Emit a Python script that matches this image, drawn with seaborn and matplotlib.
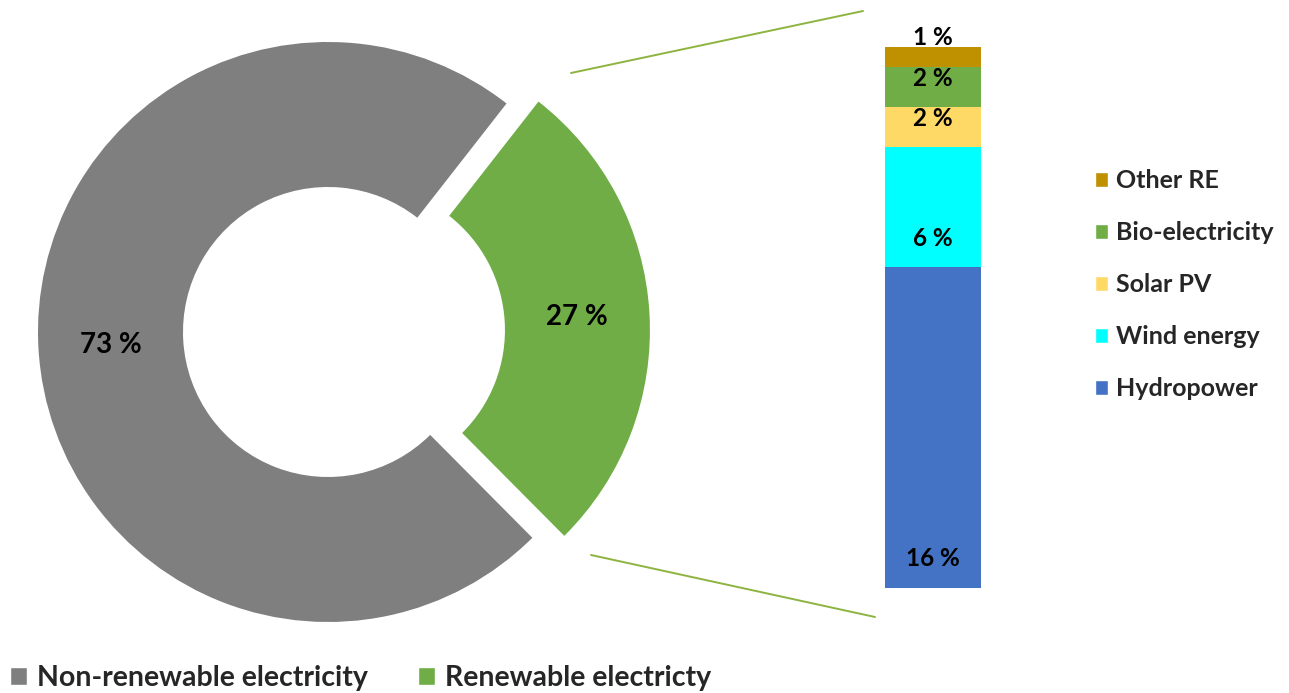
import matplotlib
matplotlib.use("Agg")
import matplotlib.pyplot as plt
import seaborn as sns
import pandas as pd
import numpy as np
from matplotlib.patches import Patch
from matplotlib.lines import Line2D

# ---- data ----
share_labels = ["Non-renewable electricity", "Renewable electricty"]
share_values = [73, 27]
share_colors = ["#7F7F7F", "#70AD47"]

re_labels = ["Hydropower", "Wind energy", "Solar PV", "Bio-electricity", "Other RE"]
re_values = [16, 6, 2, 2, 1]
re_colors = ["#4472C4", "#00FFFF", "#FFD966", "#70AD47", "#BF9000"]

sns.set_theme(style="white")
plt.rcParams["font.family"] = ["Lato", "DejaVu Sans"]

W, H = 1289, 693
fig = plt.figure(figsize=(W / 100, H / 100), dpi=100)

# ---- donut (pixel-like data coordinates) ----
ax = fig.add_axes([0, 0, 1, 1])
R = 290
wedges, texts, autotexts = ax.pie(
    share_values, colors=share_colors, startangle=52, radius=R,
    center=(328, H - 332), explode=[0, 32],
    wedgeprops=dict(width=0.5 * R, linewidth=0),
    autopct=lambda p: f"{p:.0f} %", pctdistance=0.75,
    textprops=dict(fontsize=20, fontweight="bold", color="black"))
ax.set_xlim(0, W)
ax.set_ylim(0, H)
ax.set_aspect("equal")
ax.axis("off")

# ---- stacked bar ----
bx = fig.add_axes([885 / W, (H - 588) / H, 96 / W, 541 / H])
bottoms = np.concatenate([[0], np.cumsum(re_values)[:-1]])
for lab, val, bot, col in zip(re_labels, re_values, bottoms, re_colors):
    df = pd.DataFrame({"group": ["RE"], "value": [val]})
    sns.barplot(data=df, x="group", y="value", bottom=bot, color=col,
                width=1, saturation=1, errorbar=None, ax=bx, linewidth=0)
    bx.text(0, bot + 1.45, f"{val} %", ha="center", va="center",
            fontsize=17.5, fontweight="bold", color="black", clip_on=False)
bx.set_xlim(-0.5, 0.5)
bx.set_ylim(0, sum(re_values))
bx.axis("off")

# ---- connector lines ----
line_col = "#8DB43F"
fig.add_artist(Line2D([571 / W, 863 / W], [1 - 73 / H, 1 - 11 / H], color=line_col, lw=1.4))
fig.add_artist(Line2D([591 / W, 875 / W], [1 - 555 / H, 1 - 617 / H], color=line_col, lw=1.4))

# ---- legends ----
rh = [Patch(facecolor=c, label=l) for l, c in zip(re_labels[::-1], re_colors[::-1])]
fig.legend(handles=rh, loc="center left", bbox_to_anchor=(1095 / W, 1 - 285 / H),
           frameon=False, handlelength=0.52, handleheight=0.52,
           handletextpad=0.32, labelspacing=1.16, borderpad=0, borderaxespad=0,
           prop=dict(weight="bold", size=18))

bh = [Patch(facecolor=c, label=l) for l, c in zip(share_labels, share_colors)]
fig.legend(handles=bh, loc="center left", bbox_to_anchor=(10 / W, 1 - 678 / H),
           frameon=False, ncol=2, handlelength=0.6, handleheight=0.6,
           handletextpad=0.35, columnspacing=1.75, borderpad=0, borderaxespad=0,
           prop=dict(weight="bold", size=20.5))

fig.savefig("out.png", dpi=100)
